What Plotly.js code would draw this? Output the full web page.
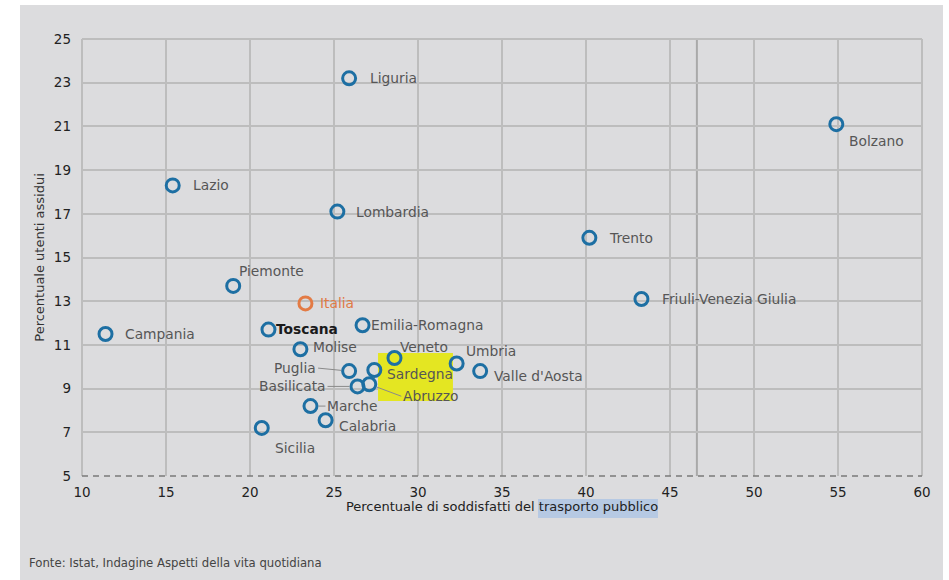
<!DOCTYPE html>
<html>
<head>
<meta charset="utf-8">
<script src="https://cdn.plot.ly/plotly-3.0.1.min.js"></script>
<style>
  html, body { margin:0; padding:0; background:#ffffff; width:949px; height:580px; overflow:hidden; }
  #chart { position:absolute; left:20px; top:5px; width:923px; height:575px; }
</style>
</head>
<body>
<div id="chart"></div>
<script>
// ---- data ----
const regions = ["Liguria","Lombardia","Lazio","Bolzano","Trento","Friuli-Venezia Giulia","Piemonte","Italia","Campania","Toscana","Emilia-Romagna","Molise","Veneto","Umbria","Valle d'Aosta","Puglia","Sardegna","Basilicata","Abruzzo","Marche","Calabria","Sicilia"];
const soddisfatti = [25.9, 25.2, 15.4, 54.9, 40.2, 43.3, 19.0, 23.3, 11.4, 21.1, 26.7, 23.0, 28.6, 32.3, 33.7, 25.9, 27.4, 26.4, 27.1, 23.6, 24.5, 20.7];
const utentiAssidui = [23.2, 17.1, 18.3, 21.1, 15.9, 13.1, 13.7, 12.9, 11.5, 11.7, 11.9, 10.8, 10.4, 10.15, 9.8, 9.8, 9.85, 9.1, 9.2, 8.2, 7.55, 7.2];
const xTicks = [10, 15, 20, 25, 30, 35, 40, 45, 50, 55, 60];
const yTicks = [5, 7, 9, 11, 13, 15, 17, 19, 21, 23, 25];
const refLineX = [46.6];
const xTitle = "Percentuale di soddisfatti del trasporto pubblico";
const yTitle = "Percentuale utenti assidui";
const sourceNote = "Fonte: Istat, Indagine Aspetti della vita quotidiana";

// ---- label styles (pixel offsets) ----
const labelStyle = {
  "Liguria": {dx:19, dy:0},
  "Lombardia": {dx:17, dy:0},
  "Lazio": {dx:18, dy:0},
  "Bolzano": {dx:11, dy:-17},
  "Trento": {dx:18, dy:0},
  "Friuli-Venezia Giulia": {dx:19, dy:0},
  "Piemonte": {dx:4, dy:15},
  "Italia": {dx:13, dy:0, color:"#e07a45"},
  "Campania": {dx:17, dy:0},
  "Toscana": {dx:6, dy:1, color:"#1a1a1a", bold:true},
  "Emilia-Romagna": {dx:6, dy:0},
  "Molise": {dx:11, dy:2},
  "Veneto": {dx:4, dy:11},
  "Umbria": {dx:7, dy:12},
  "Valle d'Aosta": {dx:12, dy:-5},
  "Sardegna": {dx:11, dy:-4},
  "Marche": {dx:15, dy:0, arrow:true, xanchor:"left"},
  "Calabria": {dx:11, dy:-6},
  "Sicilia": {dx:11, dy:-20},
  "Puglia": {dx:-31, dy:-3, arrow:true, xanchor:"right"},
  "Basilicata": {dx:-30, dy:0, arrow:true, xanchor:"right"},
  "Abruzzo": {dx:32, dy:12, arrow:true, xanchor:"left"}
};

const FONT = "DejaVu Sans, Verdana, sans-serif";
const BLUE = "#1d6fa3";
const ORANGE = "#e37b45";
const GRID = "#bdbdbd";

const markerColors = regions.map(r => r === "Italia" ? ORANGE : BLUE);

const trace = {
  type: "scatter",
  mode: "markers",
  x: soddisfatti,
  y: utentiAssidui,
  text: regions,
  hoverinfo: "text+x+y",
  marker: {
    symbol: "circle-open",
    size: 13,
    color: markerColors,
    line: {width: 3, color: markerColors}
  },
  showlegend: false
};

const annotations = regions.map((r, i) => {
  const s = labelStyle[r] || {dx:15, dy:0};
  const txt = s.bold ? "<b>" + r + "</b>" : r;
  const base = {
    x: soddisfatti[i], y: utentiAssidui[i], xref:"x", yref:"y",
    text: txt,
    font: {family: FONT, size: 13.8, color: s.color || "#565656"},
    yanchor: "middle"
  };
  if (s.arrow) {
    return Object.assign(base, {
      showarrow: true, arrowhead: 0, arrowwidth: 1, arrowcolor: "#8a8a8a",
      ax: s.dx, ay: s.dy, axref: "pixel", ayref: "pixel",
      standoff: 8, xanchor: s.xanchor
    });
  }
  return Object.assign(base, {
    showarrow: false, xanchor: "left", xshift: s.dx, yshift: s.dy
  });
});

annotations.push({
  xref: "paper", yref: "paper", x: -0.066, y: -0.198,
  xanchor: "left", yanchor: "middle", showarrow: false,
  text: sourceNote,
  font: {family: FONT, size: 11.7, color: "#444"}
});

const shapes = [
  // yellow highlighter behind Sardegna
  {type:"rect", xref:"x", yref:"y", x0:27.62, x1:32.08, y0:8.43, y1:10.63,
   fillcolor:"#e4e622", line:{width:0}, layer:"between"},
  // extra vertical line
  {type:"line", xref:"x", yref:"paper", x0:refLineX[0], x1:refLineX[0], y0:0, y1:1,
   line:{color:"#a9a9a9", width:2}, layer:"between"},
  // frame lines (left, top, right)
  {type:"line", xref:"paper", yref:"paper", x0:0, x1:0, y0:0, y1:1, line:{color:GRID, width:2}, layer:"between"},
  {type:"line", xref:"paper", yref:"paper", x0:0, x1:1, y0:1, y1:1, line:{color:GRID, width:2}, layer:"between"},
  {type:"line", xref:"paper", yref:"paper", x0:1, x1:1, y0:0, y1:1, line:{color:GRID, width:2}, layer:"between"},
  // dashed baseline
  {type:"line", xref:"paper", yref:"paper", x0:0, x1:1, y0:0, y1:0,
   line:{color:"#7a7a7a", width:1.5, dash:"6px,5px"}, layer:"above"},
  // blue selection highlight behind part of x title
  {type:"rect", xref:"paper", yref:"paper", x0:0.5429, x1:0.6857, y0:-0.0961, y1:-0.0526,
   fillcolor:"#b6c9e3", line:{width:0}, layer:"above"}
];

const layout = {
  width: 923, height: 575,
  margin: {l:62, r:21, t:34, b:104},
  paper_bgcolor: "#dcdcde",
  plot_bgcolor: "#dcdcde",
  font: {family: FONT, color: "#333"},
  xaxis: {
    range: [10, 60], tickvals: xTicks, ticktext: xTicks.map(String),
    showgrid: true, gridcolor: GRID, gridwidth: 2,
    zeroline: false, showline: false, ticks: "",
    ticklabelstandoff: 6,
    tickfont: {family: FONT, size: 13.5, color: "#222"},
    title: {text: xTitle, font: {family: FONT, size: 13, color: "#222"}, standoff: 2}
  },
  yaxis: {
    range: [5, 25], tickvals: yTicks, ticktext: yTicks.map(String),
    showgrid: true, gridcolor: GRID, gridwidth: 2,
    zeroline: false, showline: false, ticks: "",
    ticklabelstandoff: 10,
    tickfont: {family: FONT, size: 13.5, color: "#222"},
    title: {text: yTitle, font: {family: FONT, size: 13, color: "#333"}, standoff: 6}
  },
  shapes: shapes,
  annotations: annotations,
  showlegend: false
};

Plotly.newPlot("chart", [trace], layout, {displayModeBar: false});
</script>
</body>
</html>
